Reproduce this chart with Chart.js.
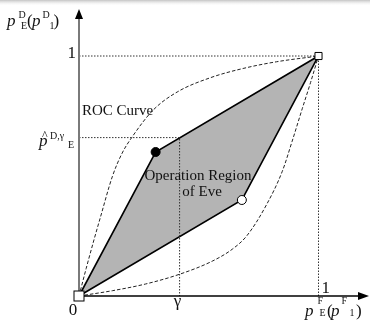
<!DOCTYPE html>
<html>
<head>
<meta charset="utf-8">
<script src="https://cdn.jsdelivr.net/npm/chart.js@4.4.0/dist/chart.umd.min.js"></script>
<style>
  html, body { margin: 0; padding: 0; background: #fff; }
  #wrap { position: relative; width: 370px; height: 323px; }
</style>
</head>
<body>
<div id="wrap"><canvas id="rocChart"></canvas></div>
<script>
// ROC curves (dashed), upper and lower bound
var upperRocX = [0, 0.03, 0.06, 0.09, 0.14, 0.18, 0.22, 0.31, 0.41, 0.55, 0.685, 0.825, 1];
var upperRocY = [0, 0.115, 0.225, 0.33, 0.50, 0.595, 0.66, 0.775, 0.85, 0.91, 0.948, 0.976, 1];
var lowerRocX = [0, 0.139, 0.278, 0.418, 0.556, 0.64, 0.70, 0.78, 0.849, 0.89, 0.932, 0.967, 1];
var lowerRocY = [0, 0.022, 0.05, 0.09, 0.145, 0.195, 0.25, 0.375, 0.52, 0.645, 0.78, 0.89, 1];

// Operation region of Eve (closed polygon)
var regionX = [0, 0.32, 1, 0.68, 0];
var regionY = [0, 0.60, 1, 0.40, 0];

// operating points
var solidPoint = [0.32, 0.60];
var openPoint = [0.68, 0.40];
var cornerX = [0, 1];
var cornerY = [0, 1];

// threshold gamma and the detection prob it gives
var gammaValue = 0.42;
var pHatValue = 0.66;

var SERIF = "'Liberation Serif', 'DejaVu Serif', serif";

function toPoints(xs, ys) {
  return xs.map(function (x, i) { return { x: x, y: ys[i] }; });
}

// draws a run of text pieces (for sub/superscripts)
function drawParts(ctx, parts) {
  parts.forEach(function (p) {
    ctx.font = (p.italic ? 'italic ' : '') + p.size + 'px ' + SERIF;
    ctx.textAlign = p.align || 'left';
    ctx.textBaseline = 'alphabetic';
    ctx.fillText(p.t, p.x, p.y);
  });
}

var axesAndText = {
  id: 'axesAndText',
  beforeDraw: function (chart) {
    var ctx = chart.ctx;
    // faint shade along the top edge
    var g = ctx.createLinearGradient(0, 0, 0, 6);
    g.addColorStop(0, '#c4c4c4');
    g.addColorStop(1, 'rgba(255,255,255,0)');
    ctx.save();
    ctx.fillStyle = g;
    ctx.fillRect(0, 0, chart.width, 6);
    ctx.restore();
  },
  afterDraw: function (chart) {
    var ctx = chart.ctx;
    var xs = chart.scales.x, ys = chart.scales.y;
    var x0 = xs.getPixelForValue(0), x1 = xs.getPixelForValue(1);
    var y0 = ys.getPixelForValue(0), y1 = ys.getPixelForValue(1);
    var gx = xs.getPixelForValue(gammaValue);

    ctx.save();
    // y axis (grey) with arrow
    ctx.strokeStyle = '#7a7a7a';
    ctx.lineWidth = 2;
    ctx.beginPath();
    ctx.moveTo(x0, y0);
    ctx.lineTo(x0, 17);
    ctx.stroke();
    ctx.fillStyle = '#000';
    ctx.beginPath();
    ctx.moveTo(x0, 9);
    ctx.lineTo(x0 - 4, 19);
    ctx.lineTo(x0 + 4, 19);
    ctx.closePath();
    ctx.fill();

    // x axis (black) with arrow
    ctx.strokeStyle = '#000';
    ctx.lineWidth = 1.5;
    ctx.beginPath();
    ctx.moveTo(x0, y0);
    ctx.lineTo(360, y0);
    ctx.stroke();
    ctx.beginPath();
    ctx.moveTo(369, y0);
    ctx.lineTo(358, y0 - 4);
    ctx.lineTo(358, y0 + 4);
    ctx.closePath();
    ctx.fill();

    // redraw corner marker above the axes
    ctx.fillStyle = '#fff';
    ctx.strokeStyle = '#000';
    ctx.lineWidth = 1;
    ctx.fillRect(x0 - 5, y0 - 5, 10, 10);
    ctx.strokeRect(x0 - 5, y0 - 5, 10, 10);

    ctx.fillStyle = '#111';
    // tick labels
    drawParts(ctx, [
      { t: '1', x: x0 - 3, y: y1 + 2, size: 17, align: 'right' },
      { t: '0', x: x0 - 6, y: 315, size: 17, align: 'center' },
      { t: '1', x: x1 + 3, y: 293, size: 17 },
      { t: 'γ', x: gx - 2, y: 306, size: 17, align: 'center' }
    ]);

    // y axis title  p^D_E(p^D_1)
    drawParts(ctx, [
      { t: 'p', x: 7, y: 26, size: 17, italic: true },
      { t: 'D', x: 18.5, y: 18, size: 10 },
      { t: 'E', x: 21, y: 29, size: 10 },
      { t: '(', x: 27, y: 26, size: 17 },
      { t: 'p', x: 32, y: 26, size: 17, italic: true },
      { t: 'D', x: 42.5, y: 18, size: 10 },
      { t: '1', x: 49.5, y: 29, size: 10 },
      { t: ')', x: 53.5, y: 26, size: 17 }
    ]);

    // x axis title  p^F_E(p^F_1)
    drawParts(ctx, [
      { t: 'p', x: 305, y: 316, size: 17, italic: true },
      { t: 'F', x: 317.5, y: 304, size: 10 },
      { t: 'E', x: 319.5, y: 316, size: 10 },
      { t: '(', x: 327, y: 316, size: 17 },
      { t: 'p', x: 331, y: 316, size: 17, italic: true },
      { t: 'F', x: 341.5, y: 304, size: 10 },
      { t: '1', x: 349.5, y: 316, size: 10 },
      { t: ')', x: 356, y: 316, size: 17 }
    ]);

    // p-hat label on the y axis
    drawParts(ctx, [
      { t: '^', x: 42, y: 139, size: 12 },
      { t: 'p', x: 39, y: 146, size: 17, italic: true },
      { t: 'D,γ', x: 50, y: 139, size: 10 },
      { t: 'E', x: 68, y: 148, size: 10 }
    ]);

    // curve and region labels
    drawParts(ctx, [
      { t: 'ROC Curve', x: 82, y: 115, size: 15 },
      { t: 'Operation Region', x: 198, y: 180, size: 15, align: 'center' },
      { t: 'of Eve', x: 202, y: 196, size: 15, align: 'center' }
    ]);
    ctx.restore();
  }
};

var dotted = {
  borderColor: '#333',
  borderWidth: 1,
  borderDash: [1.5, 1.5],
  pointRadius: 0,
  showLine: true,
  fill: false,
  clip: false
};

var ctxR = document.getElementById('rocChart').getContext('2d');
var rocChart = new Chart(ctxR, {
  type: 'scatter',
  plugins: [axesAndText],
  data: {
    datasets: [
      {
        label: 'corners',
        data: toPoints(cornerX, cornerY),
        pointStyle: 'rect',
        pointRadius: 5,
        backgroundColor: '#fff',
        borderColor: '#000',
        borderWidth: 1,
        showLine: false,
        clip: false,
        order: 0
      },
      {
        label: 'solid point',
        data: [{ x: solidPoint[0], y: solidPoint[1] }],
        pointRadius: 4.5,
        backgroundColor: '#000',
        borderColor: '#000',
        borderWidth: 1,
        showLine: false,
        order: 0
      },
      {
        label: 'open point',
        data: [{ x: openPoint[0], y: openPoint[1] }],
        pointRadius: 4.5,
        backgroundColor: '#fff',
        borderColor: '#000',
        borderWidth: 1,
        showLine: false,
        order: 0
      },
      Object.assign({ label: 'top', data: toPoints([0, 1], [1, 1]), order: 1 }, dotted),
      Object.assign({ label: 'right', data: toPoints([1, 1], [0, 1]), order: 1 }, dotted),
      Object.assign({ label: 'gamma', data: toPoints([0, gammaValue, gammaValue], [pHatValue, pHatValue, 0]), order: 1 }, dotted),
      {
        label: 'Operation Region of Eve',
        data: toPoints(regionX, regionY),
        showLine: true,
        fill: 'shape',
        backgroundColor: '#b4b4b4',
        borderColor: '#000',
        borderWidth: 1.6,
        pointRadius: 0,
        tension: 0,
        clip: false,
        order: 2
      },
      {
        label: 'ROC upper',
        data: toPoints(upperRocX, upperRocY),
        showLine: true,
        borderColor: '#222',
        borderWidth: 1,
        borderDash: [3.5, 2],
        cubicInterpolationMode: 'monotone',
        pointRadius: 0,
        fill: false,
        clip: false,
        order: 3
      },
      {
        label: 'ROC lower',
        data: toPoints(lowerRocX, lowerRocY),
        showLine: true,
        borderColor: '#222',
        borderWidth: 1,
        borderDash: [3.5, 2],
        cubicInterpolationMode: 'monotone',
        pointRadius: 0,
        fill: false,
        clip: false,
        order: 3
      }
    ]
  },
  options: {
    responsive: true,
    maintainAspectRatio: false,
    animation: false,
    layout: { padding: { left: 79, right: 51.5, top: 56, bottom: 27 } },
    scales: {
      x: { type: 'linear', min: 0, max: 1, display: false },
      y: { type: 'linear', min: 0, max: 1, display: false }
    },
    plugins: {
      legend: { display: false },
      tooltip: { enabled: false }
    }
  }
});
</script>
</body>
</html>
